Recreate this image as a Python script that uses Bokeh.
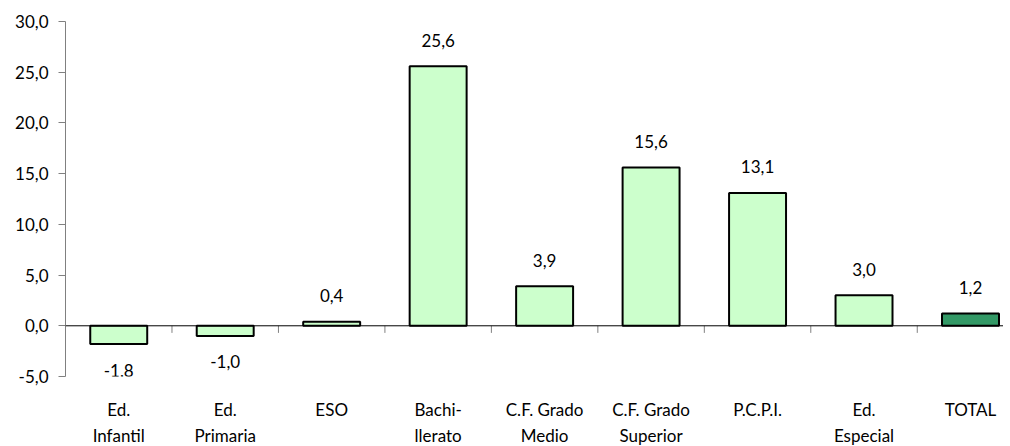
from bokeh.plotting import figure
from bokeh.models import Range1d, FixedTicker, Span, ColumnDataSource, LabelSet
from bokeh.core.properties import value
from bokeh.embed import file_html
from bokeh.resources import INLINE

categories = ["Ed.\nInfantil", "Ed.\nPrimaria", "ESO", "Bachi-\nllerato", "C.F. Grado\nMedio",
              "C.F. Grado\nSuperior", "P.C.P.I.", "Ed.\nEspecial", "TOTAL"]
values = [-1.8, -1.0, 0.4, 25.6, 3.9, 15.6, 13.1, 3.0, 1.2]
value_labels = ["-1,8", "-1,0", "0,4", "25,6", "3,9", "15,6", "13,1", "3,0", "1,2"]
y_ticks = [-5, 0, 5, 10, 15, 20, 25, 30]
y_tick_labels = ["-5,0", "0,0", "5,0", "10,0", "15,0", "20,0", "25,0", "30,0"]

FONT = "Lato"
LIGHT = "#CCFFCC"
DARK = "#339966"

n = len(categories)
xs = [i + 0.5 for i in range(n)]
colors = [DARK if c == "TOTAL" else LIGHT for c in categories]
offsets = [26 if v >= 0 else -26 for v in values]

src = ColumnDataSource(dict(x=xs, top=values, color=colors, lab=value_labels, off=offsets))

p = figure(frame_width=938, frame_height=355, output_backend="svg", toolbar_location=None,
           x_range=Range1d(0, 8.81), y_range=Range1d(-5, 30),
           min_border_left=65, min_border_top=21, min_border_right=0, min_border_bottom=64)
p.outline_line_color = None
p.grid.grid_line_color = None
p.background_fill_color = "white"
p.border_fill_color = "white"

p.vbar(x="x", top="top", bottom=0, width=0.535, source=src, fill_color="color",
       line_color="black", line_width=2)

p.add_layout(Span(location=0, dimension="width", line_color="black", line_width=1))

# boundary ticks on the zero line
bx = list(range(1, n))
p.segment(x0=bx, y0=[0] * len(bx), x1=bx, y1=[-0.7] * len(bx), line_color="#808080", line_width=1)

labels = LabelSet(x="x", y="top", text="lab", source=src, y_offset="off",
                  text_align="center", text_baseline="middle",
                  text_font=value(FONT), text_font_size="17px", text_color="black")
p.add_layout(labels)

# y axis
ya = p.yaxis[0]
ya.ticker = FixedTicker(ticks=y_ticks)
ya.major_label_overrides = {t: l for t, l in zip(y_ticks, y_tick_labels)}
ya.axis_line_color = "#808080"
ya.major_tick_line_color = "#808080"
ya.major_tick_out = 7
ya.major_tick_in = 0
ya.minor_tick_line_color = None
ya.major_label_standoff = 10
ya.major_label_text_font = FONT
ya.major_label_text_font_size = "17px"
ya.major_label_text_color = "black"

# x axis (category labels)
xa = p.xaxis[0]
xa.ticker = FixedTicker(ticks=xs)
xa.major_label_overrides = {x: c for x, c in zip(xs, categories)}
xa.axis_line_color = None
xa.major_tick_line_color = None
xa.minor_tick_line_color = None
xa.major_label_standoff = 16
xa.major_label_text_font = FONT
xa.major_label_text_font_size = "17px"
xa.major_label_text_color = "black"
xa.major_label_text_line_height = 1.25

open("out.html", "w").write(file_html(p, INLINE))
